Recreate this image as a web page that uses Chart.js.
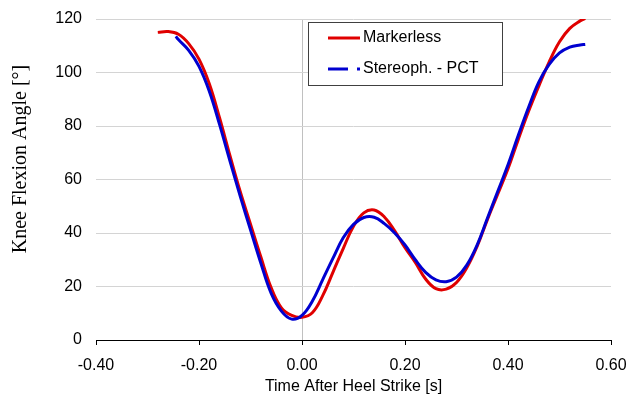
<!DOCTYPE html>
<html>
<head>
<meta charset="utf-8">
<script src="https://cdn.jsdelivr.net/npm/chart.js@4"></script>
<style>
  html, body { margin: 0; padding: 0; background: #fff; }
  #wrap { width: 628px; height: 396px; position: relative; }
</style>
</head>
<body>
<div id="wrap"><canvas id="myChart"></canvas></div>
<script>
// dados
const tempoMarkerless = [-0.28, -0.26, -0.24, -0.22, -0.20, -0.18, -0.16, -0.14, -0.12, -0.10,
  -0.08, -0.06, -0.04, -0.02, 0.00, 0.02, 0.04, 0.06, 0.08, 0.10, 0.12, 0.14, 0.16, 0.18,
  0.20, 0.22, 0.24, 0.26, 0.28, 0.30, 0.32, 0.34, 0.36, 0.38, 0.40, 0.42, 0.44, 0.46, 0.48,
  0.50, 0.52, 0.54, 0.55];
const anguloMarkerless = [115.0, 115.3, 114.3, 110.8, 105.0, 95.8, 83.0, 69.0, 55.5, 43.3,
  31.1, 19.6, 12.0, 9.2, 8.5, 10.2, 16.5, 25.3, 34.2, 42.5, 47.5, 48.6, 46.0, 40.8,
  34.5, 29.0, 22.8, 19.2, 19.0, 21.5, 27.0, 35.0, 45.0, 54.5, 64.0, 75.0, 85.5, 95.0, 104.0,
  111.5, 116.5, 119.3, 120.2];

const tempoStereoph = [-0.245, -0.24, -0.22, -0.20, -0.18, -0.16, -0.14, -0.12, -0.10,
  -0.08, -0.06, -0.04, -0.02, 0.00, 0.02, 0.04, 0.06, 0.08, 0.10, 0.12, 0.14, 0.16, 0.18,
  0.20, 0.22, 0.24, 0.26, 0.28, 0.30, 0.32, 0.34, 0.36, 0.38, 0.40, 0.42, 0.44, 0.46, 0.48,
  0.50, 0.52, 0.54, 0.55];
const anguloStereoph = [113.5, 112.3, 108.3, 102.3, 93.0, 80.5, 67.0, 53.8, 41.2,
  28.8, 17.5, 10.8, 7.8, 9.2, 14.5, 22.5, 30.5, 38.2, 43.2, 45.8, 45.9, 43.5, 40.0,
  35.5, 30.0, 25.3, 22.5, 21.8, 23.5, 28.0, 35.5, 45.5, 55.5, 65.5, 76.5, 87.0, 96.5, 103.0,
  107.3, 109.5, 110.3, 110.5];

const rotulos = ["Markerless", "Stereoph. - PCT"];

function pontos(xs, ys) {
  return xs.map((x, i) => ({ x: x, y: ys[i] }));
}

// legenda desenhada à mão (amostra tracejada só na legenda)
const legendaPlugin = {
  id: "legenda",
  afterDraw(chart) {
    const ctx = chart.ctx;
    ctx.save();
    ctx.fillStyle = "#fff";
    ctx.fillRect(308, 22, 194, 63);
    ctx.strokeStyle = "#404040";
    ctx.lineWidth = 1;
    ctx.strokeRect(308.5, 22.5, 194, 63);

    ctx.lineWidth = 3;
    ctx.strokeStyle = "#e00000";
    ctx.beginPath();
    ctx.moveTo(328, 38);
    ctx.lineTo(360, 38);
    ctx.stroke();

    ctx.strokeStyle = "#0000d0";
    ctx.beginPath();
    ctx.moveTo(328, 69);
    ctx.lineTo(348, 69);
    ctx.moveTo(357, 69);
    ctx.lineTo(360, 69);
    ctx.stroke();

    ctx.fillStyle = "#000";
    ctx.font = "16px 'Liberation Sans', Arial, sans-serif";
    ctx.textBaseline = "middle";
    ctx.fillText(rotulos[0], 363, 38);
    ctx.fillText(rotulos[1], 363, 69);

    // título do eixo y
    ctx.translate(21, 159);
    ctx.rotate(-Math.PI / 2);
    ctx.textAlign = "center";
    ctx.font = "20px 'Liberation Serif', 'Times New Roman', serif";
    ctx.fillText("Knee Flexion Angle [°]", 0, 0);
    ctx.restore();
  }
};

new Chart("myChart", {
  type: "line",
  data: {
    datasets: [
      {
        label: rotulos[0],
        data: pontos(tempoMarkerless, anguloMarkerless),
        borderColor: "#e00000",
        borderWidth: 3,
        pointRadius: 0,
        tension: 0.4,
        fill: false,
        order: 1
      },
      {
        label: rotulos[1],
        data: pontos(tempoStereoph, anguloStereoph),
        borderColor: "#0000d0",
        borderWidth: 3,
        pointRadius: 0,
        tension: 0.4,
        fill: false,
        order: 0
      }
    ]
  },
  options: {
    responsive: true,
    maintainAspectRatio: false,
    animation: false,
    layout: { padding: { left: 0, top: 19, right: 17, bottom: 0 } },
    plugins: { legend: { display: false }, tooltip: { enabled: false } },
    scales: {
      x: {
        type: "linear",
        min: -0.4,
        max: 0.6,
        afterFit(axis) {
          axis.height = 56;
          axis.paddingLeft = 0;
          axis.paddingRight = 0;
        },
        ticks: {
          stepSize: 0.2,
          padding: 11,
          color: "#000",
          font: { family: "'Liberation Sans', Arial, sans-serif", size: 16 },
          callback: v => (Math.abs(v) < 1e-9 ? 0 : v).toFixed(2)
        },
        grid: {
          color: c => (c.tick && Math.abs(c.tick.value) < 1e-9) ? "#c0c0c0" : "rgba(0,0,0,0)",
          tickColor: "#000",
          tickLength: 5,
          lineWidth: 1
        },
        border: { color: "#000", width: 1 },
        title: {
          display: true,
          text: "Time After Heel Strike [s]",
          color: "#000",
          font: { family: "'Liberation Sans', Arial, sans-serif", size: 16, lineHeight: 1 },
          padding: { top: 0, bottom: 1 }
        }
      },
      y: {
        min: 0,
        max: 120,
        afterFit(axis) {
          axis.width = 96;
          axis.paddingTop = 0;
          axis.paddingBottom = 0;
        },
        ticks: {
          stepSize: 20,
          padding: 14,
          color: "#000",
          font: { family: "'Liberation Sans', Arial, sans-serif", size: 16 }
        },
        grid: { color: "#d4d4d4", drawTicks: false, lineWidth: 1 },
        border: { display: false }
      }
    }
  },
  plugins: [legendaPlugin]
});
</script>
</body>
</html>
